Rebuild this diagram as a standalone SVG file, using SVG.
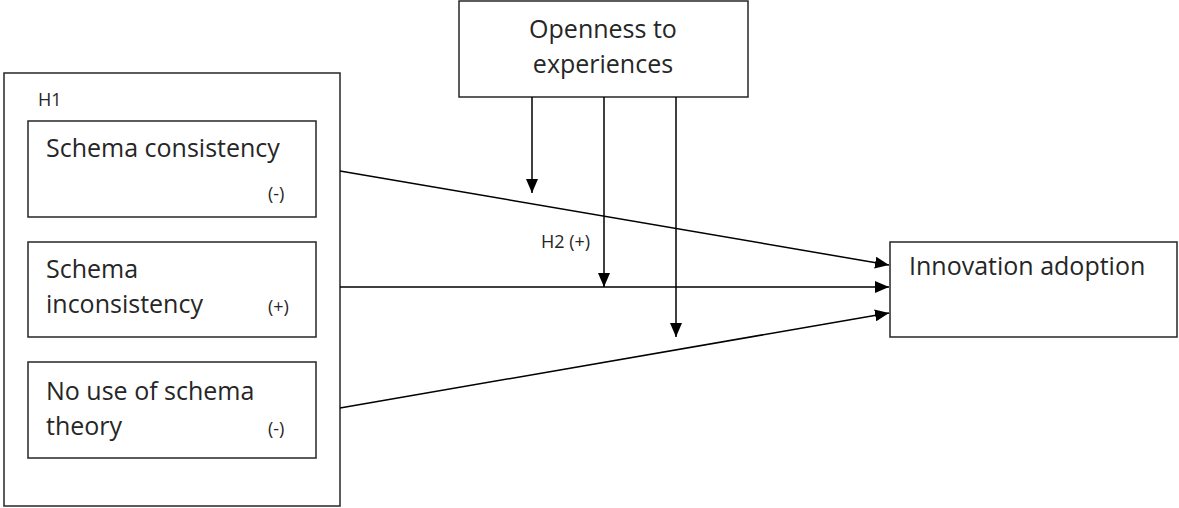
<svg xmlns="http://www.w3.org/2000/svg" width="1179" height="508" viewBox="0 0 1179 508">
<defs>
<style>
.box{fill:#fff;stroke:#262626;stroke-width:1.5}
.t{font-family:"Open Sans","Liberation Sans",sans-serif;font-size:25px;fill:#262626}
.s{font-family:"Open Sans","Liberation Sans",sans-serif;font-size:18px;fill:#262626}
.c{stroke:#000;stroke-width:1.5;fill:none}
</style>
<marker id="ah" viewBox="0 0 14 12" refX="14" refY="6" markerWidth="14" markerHeight="12" markerUnits="userSpaceOnUse" orient="auto">
<path d="M0,0 L14,6 L0,12 Z" fill="#000"/>
</marker>
</defs>
<rect width="1179" height="508" fill="#fff"/>
<g id="group-h1">
<rect class="box" x="4" y="73" width="336" height="433"/>
<text class="s" x="38" y="106">H1</text>
</g>
<g id="node-consistency">
<rect class="box" x="28" y="121" width="288" height="96"/>
<text class="t" x="46" y="157">Schema consistency</text>
<text class="s" x="268" y="200">(-)</text>
</g>
<g id="node-inconsistency">
<rect class="box" x="28" y="242" width="288" height="95"/>
<text class="t" x="46" y="278">Schema</text>
<text class="t" x="46" y="313">inconsistency</text>
<text class="s" x="268" y="313">(+)</text>
</g>
<g id="node-nouse">
<rect class="box" x="28" y="362" width="288" height="96"/>
<text class="t" x="46" y="400">No use of schema</text>
<text class="t" x="46" y="435">theory</text>
<text class="s" x="268" y="435">(-)</text>
</g>
<g id="node-openness">
<rect class="box" x="459" y="1" width="289" height="96"/>
<text class="t" x="603" y="38" text-anchor="middle">Openness to</text>
<text class="t" x="603" y="73" text-anchor="middle">experiences</text>
</g>
<g id="node-adoption">
<rect class="box" x="890" y="242" width="287" height="95"/>
<text class="t" x="909" y="275">Innovation adoption</text>
</g>
<g id="connectors">
<line class="c" x1="340" y1="171" x2="889" y2="265" marker-end="url(#ah)"/>
<line class="c" x1="340" y1="287" x2="889" y2="287" marker-end="url(#ah)"/>
<line class="c" x1="340" y1="408" x2="889" y2="313" marker-end="url(#ah)"/>
<line class="c" x1="532" y1="97" x2="532" y2="193" marker-end="url(#ah)"/>
<line class="c" x1="604" y1="97" x2="604" y2="287" marker-end="url(#ah)"/>
<line class="c" x1="676" y1="97" x2="676" y2="337" marker-end="url(#ah)"/>
<text class="s" x="541" y="248">H2 (+)</text>
</g>
</svg>
